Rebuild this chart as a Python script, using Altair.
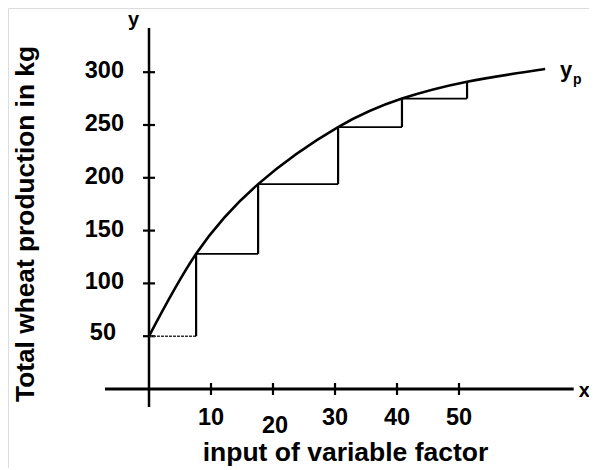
import altair as alt
import pandas as pd

# ---- data ----
x_ticks = [10, 20, 30, 40, 50]
y_ticks = [50, 100, 150, 200, 250, 300]
curve_x = [0, 7.6, 17.6, 30.5, 40.8, 51.3, 63.9]
curve_y = [50, 128, 194, 248, 275, 291, 303]
step_x = [7.6, 17.6, 30.5, 40.8, 51.3]
step_levels = [50, 128, 194, 248, 275, 291]
x_title = "input of variable factor"
y_title = "Total wheat production in kg"
x_axis_extent = [-7.1, 68.5]
y_axis_extent = [-17, 341.9]

FONT = "Liberation Sans"
W, H = 581, 460

xs = alt.Scale(domain=[-22.742, 70.968], nice=False, zero=False)
ys = alt.Scale(domain=[-74.81, 360.795], nice=False, zero=False)

ax_x = alt.Axis(title=x_title, domain=False, ticks=False, labels=False, grid=False,
                titleFont=FONT, titleFontSize=26.5, titleFontWeight="bold", titleColor="black",
                titleX=337, titleY=-8, titleAlign="center", titleBaseline="alphabetic")
ax_y = alt.Axis(title=y_title, domain=False, ticks=False, labels=False, grid=False,
                titleFont=FONT, titleFontSize=26.3, titleFontWeight="bold", titleColor="black",
                titleX=25, titleY=215.5, titleAngle=270, titleAlign="center",
                titleBaseline="alphabetic")


def X(field):
    return alt.X(field, type="quantitative", scale=xs, axis=ax_x)


def Y(field):
    return alt.Y(field, type="quantitative", scale=ys, axis=ax_y)


# axis lines
axes_df = pd.DataFrame({
    "x": [x_axis_extent[0], 0], "x2": [x_axis_extent[1], 0],
    "y": [0, y_axis_extent[0]], "y2": [0, y_axis_extent[1]],
    "w": [3, 2.5],
})
axes_lines = alt.Chart(axes_df).mark_rule(color="black").encode(
    x=X("x"), x2="x2", y=Y("y"), y2="y2",
    strokeWidth=alt.StrokeWidth("w:Q", scale=None, legend=None),
)

# tick marks crossing the axes
ytick_df = pd.DataFrame({"x": [0] * len(y_ticks), "y": y_ticks})
xtick_df = pd.DataFrame({"x": x_ticks, "y": [0] * len(x_ticks)})
yticks = alt.Chart(ytick_df).mark_point(shape="stroke", size=144, strokeWidth=2.2,
                                        color="black", opacity=1).encode(x=X("x"), y=Y("y"))
xticks = alt.Chart(xtick_df).mark_point(shape="stroke", size=144, strokeWidth=2.2, angle=90,
                                        color="black", opacity=1).encode(x=X("x"), y=Y("y"))

ylab_df = pd.DataFrame({"x": [0] * len(y_ticks), "y": y_ticks, "t": [str(v) for v in y_ticks]})
xlab_df = pd.DataFrame({"x": x_ticks, "y": [0] * len(x_ticks), "t": [str(v) for v in x_ticks]})
lab_style = dict(font=FONT, fontSize=23.5, fontWeight="bold", color="black")
ylabels = alt.Chart(ylab_df).transform_filter("datum.y != 50").mark_text(
    align="right", baseline="middle", dx=-25, dy=-1, **lab_style
).encode(x=X("x"), y=Y("y"), text="t:N")
ylabel50 = alt.Chart(ylab_df).transform_filter("datum.y == 50").mark_text(
    align="right", baseline="middle", dx=-33, dy=-3, **lab_style
).encode(x=X("x"), y=Y("y"), text="t:N")
xlabels = alt.Chart(xlab_df).transform_filter("datum.x != 20").mark_text(
    align="center", baseline="middle", dy=29, **lab_style
).encode(x=X("x"), y=Y("y"), text="t:N")
xlabel20 = alt.Chart(xlab_df).transform_filter("datum.x == 20").mark_text(
    align="center", baseline="middle", dy=37, dx=2, **lab_style
).encode(x=X("x"), y=Y("y"), text="t:N")

# staircase
h_df = pd.DataFrame({
    "x": [0] + step_x[:-1], "x2": step_x, "y": step_levels[:-1],
    "first": [True] + [False] * (len(step_x) - 1),
})
v_df = pd.DataFrame({"x": step_x, "y": step_levels[:-1], "y2": step_levels[1:]})
h_first = alt.Chart(h_df).transform_filter("datum.first").mark_rule(
    color="#333333", strokeWidth=1.6, strokeDash=[3, 1]
).encode(x=X("x"), x2="x2", y=Y("y"))
h_rest = alt.Chart(h_df).transform_filter("!datum.first").mark_rule(
    color="black", strokeWidth=1.6
).encode(x=X("x"), x2="x2", y=Y("y"))
verts = alt.Chart(v_df).mark_rule(color="black", strokeWidth=2.2).encode(
    x=X("x"), y=Y("y"), y2="y2")

# production curve
curve_df = pd.DataFrame({"x": curve_x, "y": curve_y})
curve = alt.Chart(curve_df).mark_line(color="black", strokeWidth=2.6,
                                      interpolate="natural").encode(x=X("x"), y=Y("y"))

# annotations
ann_df = pd.DataFrame({
    "x": [-3.4, 69.3, 66.3, 68.4],
    "y": [343.3, -7.6, 295.5, 288.8],
    "t": ["y", "x", "y", "p"],
    "s": [20, 20, 22, 14],
})
ann = alt.Chart(ann_df).mark_text(align="left", baseline="alphabetic", font=FONT,
                                  fontWeight="bold", color="black").encode(
    x=X("x"), y=Y("y"), text="t:N",
    size=alt.Size("s:Q", scale=None, legend=None),
)

chart = alt.layer(
    axes_lines, yticks, xticks, ylabels, ylabel50, xlabels, xlabel20,
    h_first, h_rest, verts, curve, ann,
).properties(
    width=W, height=H, autosize="none", padding=0,
).configure_view(stroke=None).configure(background="white")

chart.save("out.html", embed_options={"renderer": "svg", "actions": False})
